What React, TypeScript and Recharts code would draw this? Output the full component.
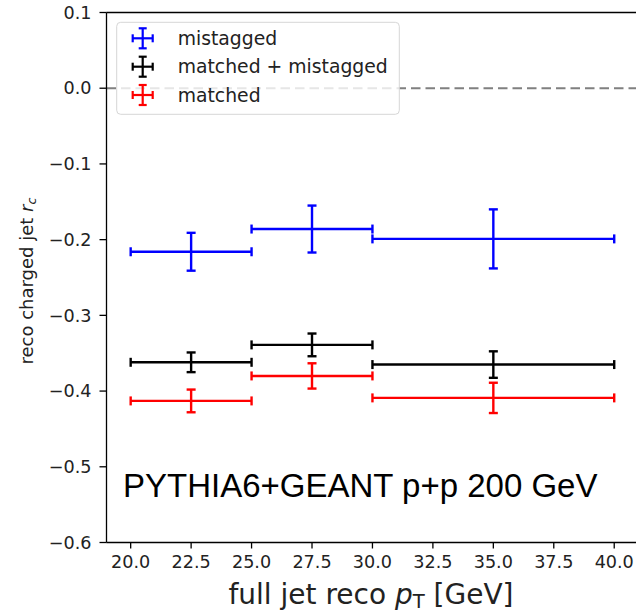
import { ScatterChart, Scatter, XAxis, YAxis, ErrorBar, ReferenceLine } from 'recharts'

const binCenters = [22.5, 27.5, 35.0]
const binHalfWidths = [2.5, 2.5, 5.0]

const mistagged = [-0.216, -0.186, -0.199]
const mistaggedErr = [0.025, 0.031, 0.039]

const matchedPlusMistagged = [-0.362, -0.339, -0.365]
const matchedPlusMistaggedErr = [0.013, 0.015, 0.0175]

const matched = [-0.413, -0.380, -0.409]
const matchedErr = [0.015, 0.0167, 0.020]

const xTicks = [20, 22.5, 25, 27.5, 30, 32.5, 35, 37.5, 40]
const yTicks = [-0.6, -0.5, -0.4, -0.3, -0.2, -0.1, 0.0, 0.1]

const seriesNames = ['mistagged', 'matched + mistagged', 'matched']
const seriesColors = ['#0000ff', '#000000', '#ff0000']

const toPoints = (vals: number[], errs: number[]) =>
  vals.map((v, i) => ({ x: binCenters[i], y: v, xErr: binHalfWidths[i], yErr: errs[i] }))

const series = [
  toPoints(mistagged, mistaggedErr),
  toPoints(matchedPlusMistagged, matchedPlusMistaggedErr),
  toPoints(matched, matchedErr),
]

const tickFont = { fill: '#222', fontSize: 17.6, fontFamily: 'DejaVu Sans' }
const fmtY = (v: number) => (v < 0 ? '\u2212' : '') + Math.abs(v).toFixed(1)

function LegendIcon({ cx, cy, color }: { cx: number; cy: number; color: string }) {
  return (
    <g stroke={color} strokeWidth={2.2}>
      <line x1={cx - 10} y1={cy} x2={cx + 10} y2={cy} />
      <line x1={cx - 10} y1={cy - 4} x2={cx - 10} y2={cy + 4} />
      <line x1={cx + 10} y1={cy - 4} x2={cx + 10} y2={cy + 4} />
      <line x1={cx} y1={cy - 10} x2={cx} y2={cy + 10} />
      <line x1={cx - 4} y1={cy - 10} x2={cx + 4} y2={cy - 10} />
      <line x1={cx - 4} y1={cy + 10} x2={cx + 4} y2={cy + 10} />
    </g>
  )
}

export default function App() {
  const rows = [38.3, 66.7, 95]
  return (
    <div style={{ position: 'absolute', left: 0, top: 0, width: 636, height: 613, overflow: 'hidden', background: '#fff' }}>
      <ScatterChart width={660} height={613} margin={{ top: 12.5, right: 21.6, bottom: 0, left: 0 }}>
        <XAxis
          type="number"
          dataKey="x"
          domain={[19, 41]}
          ticks={xTicks}
          tickFormatter={(v: number) => v.toFixed(1)}
          tick={tickFont}
          tickSize={6}
          tickMargin={7}
          height={70.5}
          stroke="#000"
          strokeWidth={1.3}
          allowDataOverflow
        />
        <YAxis
          type="number"
          dataKey="y"
          domain={[-0.6, 0.1]}
          ticks={yTicks}
          tickFormatter={fmtY}
          tick={tickFont}
          tickSize={7}
          tickMargin={8}
          width={106.5}
          stroke="#000"
          strokeWidth={1.3}
          allowDataOverflow
        />
        <ReferenceLine y={0} stroke="#808080" strokeWidth={2} strokeDasharray="9.5 5" />
        <ReferenceLine y={0.1} stroke="#000" strokeWidth={1.3} />
        <ReferenceLine x={41} stroke="#000" strokeWidth={1.3} />
        {series.map((pts, i) => (
          <Scatter key={seriesNames[i]} data={pts} isAnimationActive={false} shape={() => <g />}>
            <ErrorBar dataKey="xErr" direction="x" width={4.5} stroke={seriesColors[i]} strokeWidth={2.4} />
            <ErrorBar dataKey="yErr" direction="y" width={4.5} stroke={seriesColors[i]} strokeWidth={2.4} />
          </Scatter>
        ))}
      </ScatterChart>
      <svg width={636} height={613} style={{ position: 'absolute', left: 0, top: 0, pointerEvents: 'none' }}>
        <rect x={116.7} y={22.3} width={282.6} height={92} rx={4} fill="rgba(255,255,255,0.8)" stroke="#d6d6d6" strokeWidth={1} />
        {seriesNames.map((name, i) => (
          <g key={name}>
            <LegendIcon cx={142.7} cy={rows[i]} color={seriesColors[i]} />
            <text x={177.7} y={rows[i] + 6.5} fontSize={18.8} fontFamily="DejaVu Sans" fill="#222">
              {name}
            </text>
          </g>
        ))}
        <text x={123} y={497} fontSize={33} fontFamily="Liberation Sans" fill="#000">
          PYTHIA6+GEANT p+p 200 GeV
        </text>
        <text x={371} y={604} fontSize={28} fontFamily="DejaVu Sans" fill="#222" textAnchor="middle">
          full jet reco <tspan fontStyle="italic">p</tspan>
          <tspan fontSize={19.6} dy={4}>T</tspan>
          <tspan dy={-4}> [GeV]</tspan>
        </text>
        <text x={33} y={281} fontSize={18} fontFamily="DejaVu Sans" fill="#222" textAnchor="middle" transform="rotate(-90 33 281)">
          reco charged jet <tspan fontStyle="italic">r</tspan>
          <tspan fontStyle="italic" fontSize={12.8} dy={3}>c</tspan>
        </text>
      </svg>
    </div>
  )
}
